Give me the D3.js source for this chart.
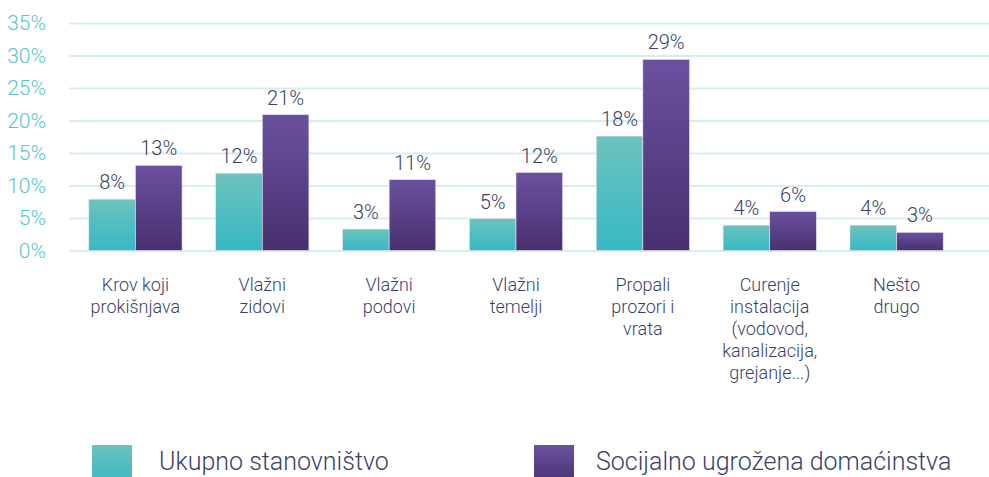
<!DOCTYPE html>
<head>
    <style>
        body { margin: 0; background: #fff; }
        svg { display: block; font-family: Roboto, "Noto Sans", sans-serif; font-weight: 300; }
    </style>
</head>
<body>
    <script src="https://cdn.jsdelivr.net/npm/d3@7"></script>
    <script>
        // data
        var categories = [
            ['Krov koji', 'prokišnjava'],
            ['Vlažni', 'zidovi'],
            ['Vlažni', 'podovi'],
            ['Vlažni', 'temelji'],
            ['Propali', 'prozori i', 'vrata'],
            ['Curenje', 'instalacija', '(vodovod,', 'kanalizacija,', 'grejanje...)'],
            ['Nešto', 'drugo']
        ];
        var seriesNames = ['Ukupno stanovništvo', 'Socijalno ugrožena domaćinstva'];
        var ukupno = [7.9, 11.9, 3.3, 4.9, 17.6, 3.9, 3.9];
        var ugrozena = [13.1, 20.9, 10.9, 12.0, 29.4, 6.0, 2.8];
        var yTicks = [0, 5, 10, 15, 20, 25, 30, 35];

        var W = 989, H = 477;
        var svg = d3.select('body').append('svg')
                    .attr('width', W)
                    .attr('height', H);

        var defs = svg.append('defs');
        function grad(id, top, bottom) {
            var g = defs.append('linearGradient')
                        .attr('id', id)
                        .attr('x1', 0).attr('y1', 0)
                        .attr('x2', 0).attr('y2', 1);
            g.append('stop').attr('offset', '0%').attr('stop-color', top);
            g.append('stop').attr('offset', '100%').attr('stop-color', bottom);
        }
        grad('gTeal', '#6cc3be', '#37b8c3');
        grad('gPurple', '#6a51a0', '#48306f');
        var fills = ['url(#gTeal)', 'url(#gPurple)'];

        var y = d3.scaleLinear().domain([0, 35]).range([250.5, 23]);
        var x0 = d3.scaleBand()
                   .domain(d3.range(categories.length))
                   .range([72, 960])
                   .paddingInner(0.265)
                   .paddingOuter(0.1325);
        var x1 = d3.scaleBand()
                   .domain([0, 1])
                   .range([0, x0.bandwidth()]);

        // grid + y labels
        var yAxis = d3.axisLeft(y)
                      .tickValues(yTicks)
                      .tickSize(-(W - 69))
                      .tickPadding(23)
                      .tickFormat(d => d + '%');
        var ga = svg.append('g')
                    .attr('transform', 'translate(69,0)')
                    .call(yAxis);
        ga.select('.domain').remove();
        ga.selectAll('.tick line')
          .attr('stroke', '#d5eef1')
          .attr('stroke-width', 2);
        ga.selectAll('.tick text')
          .attr('fill', '#55c6cb')
          .attr('font-size', 21)
          .attr('font-family', 'Roboto, sans-serif')
          .attr('font-weight', 300);

        var rows = categories.map((c, i) => [ukupno[i], ugrozena[i]]);

        var groups = svg.selectAll('g.grp')
                        .data(rows)
                        .enter()
                        .append('g')
                        .attr('class', 'grp')
                        .attr('transform', (d, i) => 'translate(' + x0(i) + ',0)');

        groups.selectAll('rect')
              .data(d => d)
              .enter()
              .append('rect')
              .attr('x', (d, j) => x1(j))
              .attr('y', d => y(d))
              .attr('width', x1.bandwidth())
              .attr('height', d => y(0) - y(d))
              .attr('fill', (d, j) => fills[j])
              .attr('stroke', '#e6e4f0')
              .attr('stroke-width', 0.6);

        groups.selectAll('text.val')
              .data(d => d)
              .enter()
              .append('text')
              .attr('class', 'val')
              .attr('x', (d, j) => x1(j) + x1.bandwidth() / 2)
              .attr('y', d => y(d) - 10)
              .attr('text-anchor', 'middle')
              .attr('font-size', 20)
              .attr('fill', '#3b3f66')
              .text(d => Math.round(d) + '%');

        // category labels
        var cat = svg.selectAll('text.cat')
                     .data(categories)
                     .enter()
                     .append('text')
                     .attr('class', 'cat')
                     .attr('text-anchor', 'middle')
                     .attr('font-size', 18)
                     .attr('fill', '#3b3f66')
                     .attr('transform', (d, i) => 'translate(' + (x0(i) + x0.bandwidth() / 2) + ',291)');
        cat.selectAll('tspan')
           .data(d => d)
           .enter()
           .append('tspan')
           .attr('x', 0)
           .attr('y', (d, k) => k * 22)
           .text(d => d);

        // legend
        var legX = [92, 534], legTextX = [159, 596];
        var leg = svg.selectAll('g.leg')
                     .data(seriesNames)
                     .enter()
                     .append('g')
                     .attr('class', 'leg');
        leg.append('rect')
           .attr('x', (d, i) => legX[i])
           .attr('y', 445)
           .attr('width', 40)
           .attr('height', 40)
           .attr('fill', (d, i) => fills[i]);
        leg.append('text')
           .attr('x', (d, i) => legTextX[i])
           .attr('y', 470)
           .attr('font-size', 25)
           .attr('fill', '#3b3f66')
           .text(d => d);
    </script>
</body>
